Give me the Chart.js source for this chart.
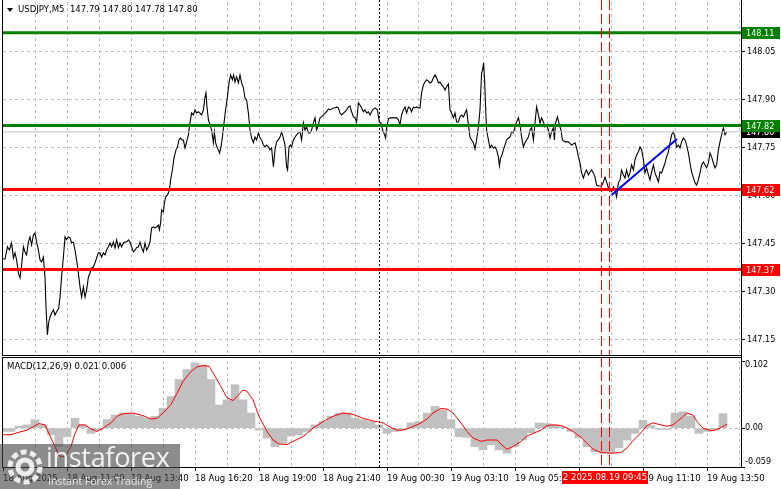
<!DOCTYPE html>
<html>
<head>
<meta charset="utf-8">
<title>USDJPY M5</title>
<script src="https://cdn.jsdelivr.net/npm/chart.js@4.4.1/dist/chart.umd.min.js"></script>
<style>
  html, body { margin: 0; padding: 0; background: #fff; }
  #wrap { position: relative; width: 781px; height: 489px; overflow: hidden; }
  #wrap canvas { position: absolute; left: 0; }
  #priceCanvas { top: 0; }
  #macdCanvas { top: 356px; }
  .txt { position: absolute; font: 9.5px "DejaVu Sans Condensed", "DejaVu Sans", sans-serif; color: #000; white-space: pre; line-height: 12px; }
  #title { left: 18px; top: 3px; }
  #arrow { position: absolute; left: 7px; top: 8px; width: 0; height: 0; border-left: 3.5px solid transparent; border-right: 3.5px solid transparent; border-top: 4px solid #000; }
  #macdTitle { left: 7px; top: 360px; }
  #brand { position: absolute; left: 0; top: 444px; width: 180px; height: 45px; background: rgba(70,70,70,0.62); }
  #brand .big { position: absolute; left: 46px; top: -1px; font: 27px "Open Sans", sans-serif; line-height: 27px; color: rgba(255,255,255,0.88); letter-spacing: -0.3px; }
  #brand .small { position: absolute; left: 48px; top: 31px; font: 10.5px "Open Sans", sans-serif; line-height: 12px; color: rgba(255,255,255,0.8); }
</style>
</head>
<body>
<div id="wrap">
  <canvas id="priceCanvas" width="781" height="356"></canvas>
  <canvas id="macdCanvas" width="781" height="133"></canvas>
  <div id="arrow"></div>
  <div id="title" class="txt">USDJPY,M5  147.79 147.80 147.78 147.80</div>
  <div id="macdTitle" class="txt">MACD(12,26,9) 0.021 0.006</div>
  <div id="brand">
    <svg width="44" height="44" viewBox="0 0 44 44" style="position:absolute;left:3px;top:1px">
      <g fill="none" stroke="rgba(255,255,255,0.85)">
        <circle cx="22" cy="22" r="7" stroke-width="5"/>
        <circle cx="22" cy="22" r="15" stroke-width="5" stroke-dasharray="6 3.42"/>
      </g>
    </svg>
    <div class="big">instaforex</div>
    <div class="small">Instant Forex Trading</div>
  </div>
</div>
<script>
// bar index = one M5 candle, 0 = 18 Aug 08:20
const pricePoints = [
  [0,147.403],[1,147.403],[2.2,147.441],[3.2,147.431],[4.3,147.453],[5.2,147.406],[6,147.422],[6.8,147.400],[7.7,147.359],[8.5,147.344],
  [9.2,147.378],[10.2,147.441],[11,147.425],[11.8,147.416],[12.7,147.456],[13.5,147.472],[14.3,147.447],[15.2,147.478],[16,147.484],[16.8,147.456],
  [17.7,147.431],[18.5,147.400],[19.3,147.394],[20.2,147.409],[21,147.347],[21.5,147.253],[22.2,147.166],[22.8,147.203],[23.5,147.222],[24.3,147.234],
  [25.2,147.244],[26,147.228],[26.8,147.238],[27.8,147.247],[28.5,147.284],[29.3,147.347],[30.2,147.409],[31,147.472],[31.8,147.463],[32.7,147.472],
  [33.5,147.469],[34.3,147.453],[35.2,147.456],[36,147.431],[36.8,147.400],[37.7,147.359],[38.5,147.316],[39.3,147.284],[40.2,147.316],[41,147.284],
  [41.8,147.306],[42.7,147.347],[43.5,147.359],[44.3,147.375],[45.2,147.378],[46,147.391],[46.8,147.406],[47.7,147.422],[48.5,147.422],[49.3,147.409],
  [50.2,147.422],[51,147.416],[51.8,147.431],[52.7,147.441],[53.5,147.453],[54.3,147.441],[55.2,147.456],[56,147.438],[56.8,147.463],[57.7,147.438],
  [58.5,147.453],[59.3,147.441],[60.2,147.453],[61,147.456],[61.8,147.456],[62.7,147.463],[63.5,147.456],[64.3,147.441],[65.2,147.425],[66,147.431],
  [66.8,147.438],[67.7,147.441],[68.5,147.456],[69.3,147.438],[70.2,147.425],[71,147.453],[71.8,147.431],[72.7,147.441],[73.5,147.456],[74.3,147.500],
  [75.2,147.503],[76,147.500],[76.8,147.503],[77.7,147.509],[78.2,147.494],[78.8,147.516],[79.3,147.556],[80.2,147.550],[80.7,147.578],[81.3,147.597],
  [82.3,147.603],[83.2,147.619],[83.8,147.650],[84.7,147.681],[85.5,147.719],[86.5,147.744],[87.2,147.753],[88,147.775],[88.7,147.781],[89.5,147.775],
  [90.2,147.775],[91,147.750],[91.8,147.769],[92.7,147.791],[93.2,147.816],
  [94.3,147.859],[95.2,147.853],[96,147.869],[96.8,147.859],[97.7,147.863],[98.5,147.859],[99.3,147.853],[100.2,147.869],[101,147.909],[101.5,147.922],
  [102,147.878],[102.7,147.838],[103.5,147.822],[104.3,147.806],[105.2,147.766],[105.7,147.800],[106.3,147.766],[107,147.753],[107.7,147.744],[108.3,147.734],
  [109,147.753],[109.7,147.784],[110.5,147.828],[111.3,147.869],[112.2,147.909],[113,147.953],[113.8,147.978],[114.7,147.963],[115.3,147.978],[116,147.956],
  [116.8,147.972],[117.7,147.953],[118.5,147.978],[119.3,147.953],[120.2,147.938],[121,147.906],[121.8,147.900],[122.7,147.859],[123.5,147.806],[124.3,147.781],
  [125.2,147.766],[126,147.784],[126.8,147.775],[127.7,147.797],[128.5,147.781],[129.3,147.775],[130.2,147.759],[131,147.753],[131.8,147.759],[132.7,147.753],
  [133.5,147.744],[134.3,147.750],[135.2,147.691],[136,147.744],[136.8,147.769],[137.7,147.775],[138.5,147.784],[139.3,147.800],[140.2,147.781],[141,147.759],
  [141.8,147.691],[142.3,147.681],[143,147.753],[143.7,147.759],[144.3,147.753],[145.2,147.775],[146,147.784],[146.8,147.791],[147.7,147.797],[148.5,147.800],
  [149.3,147.775],[150.2,147.828],[151,147.806],[151.8,147.816],[152.7,147.797],[153.5,147.797],[154.3,147.806],[155.2,147.828],[156,147.844],[156.8,147.806],
  [157.7,147.822],[158.5,147.844],[159.3,147.847],[160.2,147.853],[161,147.859],[161.8,147.863],[162.7,147.872],[163.5,147.869],[164.3,147.872],[165.2,147.875],
  [166,147.875],[166.8,147.878],[167.7,147.875],[168.5,147.859],[169.3,147.853],[170.2,147.859],[171,147.863],[171.8,147.869],[172.7,147.878],[173.5,147.881],
  [174.3,147.863],[175.2,147.847],[176,147.844],[176.8,147.831],[177.7,147.891],[178.5,147.884],[179.3,147.875],[180.2,147.863],[181,147.869],[181.8,147.859],
  [182.7,147.863],[183.5,147.853],
  [184.8,147.869],[186,147.875],[187.2,147.869],[188.2,147.831],[189,147.828],[189.8,147.806],[190.8,147.791],[191.3,147.781],[191.8,147.813],[192.7,147.841],
  [193.5,147.844],[195.2,147.844],[196.8,147.844],[197.7,147.838],[198.5,147.822],[199.3,147.853],[200.2,147.869],[201,147.878],[201.8,147.859],[202.7,147.878],
  [203.5,147.875],[204.3,147.863],[205.2,147.878],[206,147.875],[206.8,147.878],[207.7,147.875],[208.5,147.875],[209.3,147.922],[210.2,147.947],[211,147.956],
  [211.8,147.963],[212.7,147.959],[213.5,147.953],[214.3,147.956],[215.2,147.969],[216,147.978],[216.8,147.969],[217.7,147.953],[218.5,147.956],[219.3,147.947],
  [220.2,147.941],[221,147.931],[221.8,147.941],[222.7,147.950],[223.5,147.869],[224.3,147.859],[225.2,147.844],[226,147.859],[226.8,147.831],[227.7,147.831],
  [228.5,147.847],[229.3,147.853],[230.2,147.847],[231,147.859],[231.8,147.869],[232.7,147.822],[233.5,147.784],[234.3,147.775],[235.2,147.766],[236,147.747],
  [236.8,147.775],[237.7,147.816],[238.5,147.869],[239.3,147.984],[239.8,147.994],[240.3,148.016],[240.8,147.963],[241.3,147.878],[241.8,147.806],[242.7,147.775],
  [243.5,147.750],[244.3,147.759],[245.2,147.750],[246,147.753],[246.8,147.744],[247.7,147.722],[248.2,147.694],[248.8,147.719],[249.5,147.728],[250.2,147.744],
  [251,147.759],[251.8,147.775],[252.7,147.781],[253.5,147.784],[254.3,147.800],[255.2,147.797],[256,147.816],[256.8,147.831],[257.7,147.844],[258.5,147.822],
  [259.3,147.784],[260.2,147.753],[261,147.766],[261.8,147.775],[262.7,147.784],[263.5,147.806],[264.3,147.813],[265.2,147.775],[266,147.828],[266.8,147.878],
  [267.7,147.853],[268.5,147.828],[269.3,147.844],[270.2,147.831],[271,147.816],[271.8,147.822],[272.7,147.806],[273.5,147.781],[274.3,147.800],[275.2,147.813],
  [275.7,147.775],[276.3,147.828],[277.2,147.847],[278.2,147.822],
  [279,147.806],[279.7,147.775],[281,147.769],[282.7,147.769],[284.3,147.759],[286,147.766],[286.8,147.750],[287.7,147.722],[288.5,147.703],[289.3,147.672],
  [290.2,147.656],[291,147.672],[291.8,147.681],[292.7,147.666],[293.5,147.675],[294.3,147.681],[295.2,147.672],[296,147.659],[296.8,147.634],[297.7,147.631],
  [299.3,147.631],[300.2,147.644],[301,147.659],[301.8,147.644],[302.7,147.625],[303.5,147.619],[304.3,147.613],[305.2,147.628],[306,147.619],[306.8,147.597],
  [307.7,147.641],[308.5,147.650],[309.3,147.681],[310.2,147.666],[311,147.656],[311.8,147.681],[312.7,147.659],[313.5,147.672],[314.3,147.697],[315.2,147.681],
  [316,147.713],[316.8,147.728],[317.7,147.738],[318.5,147.753],[319.3,147.744],[320.2,147.713],[321,147.672],[321.8,147.688],[322.7,147.666],[323.5,147.650],
  [324.3,147.675],[325.2,147.697],[326,147.672],[326.8,147.659],[327.7,147.644],[328.5,147.675],[329.3,147.672],[330.2,147.688],[331,147.703],[331.8,147.722],
  [332.7,147.738],[333.5,147.766],[334.3,147.791],[335.2,147.800],[336,147.781],[336.8,147.753],[337.7,147.759],[338.5,147.750],[339.3,147.769],[340.2,147.781],
  [341,147.775],[341.8,147.759],[342.7,147.734],[343.5,147.703],[344.3,147.675],[345.2,147.656],[346,147.641],[346.8,147.634],[347.7,147.650],[348.5,147.672],
  [349.3,147.697],[350.2,147.706],[351,147.697],[351.8,147.688],[352.7,147.703],[353.5,147.734],[354.3,147.722],[355.2,147.703],[356,147.688],[356.8,147.697],
  [357.7,147.744],[358.5,147.769],[359.3,147.791],[360.2,147.813],[361,147.791],[361.8,147.800]
];

// MACD main (histogram) and signal
const macdHist = [
  [0,-0.005],[4,-0.005],[8,0.003],[12,0.005],[16,0.013],[20,0.005],[24,-0.010],[28,-0.028],[32,-0.013],[36,0.015],
  [40,0.005],[44,-0.008],[48,-0.003],[52,0.013],[56,0.020],[60,0.023],[64,0.022],[68,0.018],[72,0.015],[76,0.018],
  [80,0.030],[84,0.048],[88,0.074],[92,0.089],[96,0.099],[100,0.096],[104,0.074],[108,0.035],[112,0.043],[116,0.066],
  [120,0.043],[124,0.023],[128,-0.003],[132,-0.015],[136,-0.028],[140,-0.023],[144,-0.012],[148,-0.010],[152,-0.005],[156,0.005],
  [160,0.010],[164,0.018],[168,0.023],[172,0.023],[176,0.015],[180,0.013],[184,0.010],[188,0.005],[192,-0.008],[196,-0.005],
  [200,-0.003],[204,0.008],[208,0.010],[212,0.023],[216,0.033],[220,0.028],[224,0.013],[228,-0.013],[232,-0.014],[236,-0.028],
  [240,-0.033],[244,-0.025],[248,-0.033],[252,-0.038],[256,-0.028],[260,-0.018],[264,-0.007],[268,0.008],[272,0.007],[276,0.005],
  [280,0.002],[284,-0.005],[288,-0.015],[292,-0.028],[296,-0.036],[300,-0.038],[304,-0.038],[308,-0.030],[312,-0.018],[316,-0.008],
  [320,0.012],[324,0.004],[328,-0.002],[332,-0.002],[336,0.023],[340,0.025],[344,0.018],[348,-0.008],[352,-0.005],[356,-0.003],[360,0.022]
];
const macdSignal = [
  [0,-0.010],[4,-0.010],[7,-0.007],[12,-0.003],[15,0.002],[18,0.007],[21,0.005],[24,-0.015],[26,-0.028],[28,-0.042],
  [31,-0.044],[34,-0.028],[36,-0.008],[38,0.005],[41,0.005],[44,-0.001],[47,-0.005],[50,0.000],[54,0.008],[57,0.018],
  [60,0.022],[65,0.023],[70,0.019],[74,0.014],[77,0.015],[80,0.023],[84,0.036],[87,0.053],[90,0.071],[94,0.086],
  [97,0.093],[100,0.095],[103,0.094],[105,0.084],[109,0.063],[112,0.046],[115,0.042],[117,0.048],[120,0.058],[122,0.056],
  [125,0.043],[128,0.018],[132,-0.005],[135,-0.018],[138,-0.024],[142,-0.025],[145,-0.020],[150,-0.013],[155,0.000],[160,0.010],
  [165,0.018],[170,0.023],[175,0.021],[180,0.015],[185,0.011],[190,0.008],[194,0.001],[197,-0.003],[200,-0.003],[204,0.001],
  [209,0.008],[212,0.014],[215,0.023],[219,0.030],[222,0.029],[225,0.023],[229,0.008],[232,-0.005],[235,-0.015],[239,-0.020],
  [242,-0.018],[247,-0.018],[250,-0.027],[252,-0.032],[255,-0.028],[259,-0.020],[262,-0.012],[265,-0.008],[269,-0.003],[272,0.004],
  [275,0.005],[279,0.004],[282,0.000],[285,-0.005],[289,-0.014],[292,-0.023],[295,-0.032],[299,-0.037],[304,-0.038],[309,-0.037],
  [312,-0.030],[315,-0.019],[319,-0.007],[322,0.004],[325,0.008],[329,0.005],[332,0.003],[335,0.005],[339,0.015],[342,0.023],
  [345,0.020],[347,0.010],[350,0.000],[354,-0.004],[356,-0.003],[359,0.001],[362,0.006]
];

const levelValues = [148.11, 147.82, 147.62, 147.37];
const levelColors = ['#008000', '#008000', '#ff0000', '#ff0000'];
const currentPrice = 147.80;
const trendBars = [304.3, 337];
const trendPrices = [147.603, 147.778];
const cursorBars = [299, 303];
const daySeparatorBar = 188;
const cursorTagBar = 301;
const cursorTagText = '2 2025.08.19 09:45';

const priceTicks = [147.15, 147.30, 147.45, 147.60, 147.75, 147.90, 148.05];
const macdTicks = [0.102, 0, -0.059];
const macdTickLabels = ['0.102', '0.00', '-0.059'];
const gridBars = [0,16,32,48,64,80,96,112,128,144,160,176,192,208,224,240,256,272,288,304,320,336,352,368];
const timeTickBars = [0, 32, 64, 96, 128, 160, 192, 224, 256, 288, 320, 352];
const timeTickLabels = ['18 Aug 2025', '18 Aug 11:00', '18 Aug 13:40', '18 Aug 16:20', '18 Aug 19:00', '18 Aug 21:40',
  '19 Aug 00:30', '19 Aug 03:10', '19 Aug 05:50', '19 Aug 08:30', '19 Aug 11:10', '19 Aug 13:50'];

const priceMin = 147.103, priceMax = 148.206;
const macdMin = -0.059, macdMax = 0.102;
const barMin = 0, barMax = 369;

const FONT = '"DejaVu Sans Condensed", "DejaVu Sans", sans-serif';
const axisFont = { family: FONT, size: 9 };
const timeFont = { family: FONT, size: 9.5 };
const CLEAR = 'rgba(0,0,0,0)';

function pts(arr) { return arr.map(p => ({ x: p[0], y: p[1] })); }
function hline(v, color, width) {
  return { type: 'line', data: [{ x: barMin, y: v }, { x: barMax, y: v }], borderColor: color, borderWidth: width, pointRadius: 0 };
}

function xScale(showLabels) {
  return {
    type: 'linear', min: barMin, max: barMax, offset: false,
    afterBuildTicks: s => { s.ticks = gridBars.map(v => ({ value: v })); },
    afterFit: s => { s.height = showLabels ? 22 : 0; },
    grid: {
      offset: false, drawTicks: showLabels, tickLength: 4, tickWidth: 1,
      color: c => (c.tick && c.tick.value === 0 ? CLEAR : '#c0c0c0'),
      tickColor: c => (c.tick && timeTickBars.includes(c.tick.value) ? '#000' : CLEAR)
    },
    border: { display: false, dash: [3, 3] },
    ticks: {
      display: showLabels, autoSkip: false, maxRotation: 0, minRotation: 0, align: 'start', padding: 2,
      color: '#000', font: timeFont,
      callback: v => { const i = timeTickBars.indexOf(v); return i >= 0 ? timeTickLabels[i] : ''; }
    }
  };
}

// fixed right axis width, no extra label padding at the ends
function fitY(s) { s.width = 40; s.paddingTop = 0; s.paddingBottom = 0; }

// vertical cursor lines and the day separator, placed by the x scale
const markers = {
  id: 'markers',
  afterDatasetsDraw(chart) {
    const ctx = chart.ctx, x = chart.scales.x, a = chart.chartArea;
    const top = chart.canvas.id === 'macdCanvas' ? 1 : 0;
    const draw = (bar, color, dash) => {
      const px = Math.round(x.getPixelForValue(bar)) + 0.5;
      ctx.save();
      ctx.strokeStyle = color;
      ctx.lineWidth = 1;
      ctx.setLineDash(dash);
      ctx.beginPath();
      ctx.moveTo(px, top);
      ctx.lineTo(px, a.bottom);
      ctx.stroke();
      ctx.restore();
    };
    draw(daySeparatorBar, '#000', [2, 2]);
    cursorBars.forEach(b => draw(b, '#ff0000', [10, 4]));
  }
};

// panel frames and right axis line
function framePlugin(isMacd) {
  return {
    id: 'frame',
    afterDraw(chart) {
      const ctx = chart.ctx, a = chart.chartArea;
      ctx.save();
      ctx.strokeStyle = '#000';
      ctx.lineWidth = 1;
      ctx.beginPath();
      if (!isMacd) {
        ctx.moveTo(2.5, 0); ctx.lineTo(2.5, a.bottom + 0.5);
        ctx.moveTo(2, a.bottom + 0.5); ctx.lineTo(a.right + 1, a.bottom + 0.5);
        ctx.moveTo(a.right + 0.5, 0); ctx.lineTo(a.right + 0.5, chart.height);
      } else {
        ctx.moveTo(2, 1.5); ctx.lineTo(a.right + 1, 1.5);
        ctx.moveTo(2.5, 1); ctx.lineTo(2.5, a.bottom + 0.5);
        ctx.moveTo(2, a.bottom + 0.5); ctx.lineTo(a.right + 1, a.bottom + 0.5);
        ctx.moveTo(a.right + 0.5, 0); ctx.lineTo(a.right + 0.5, a.bottom + 1);
      }
      ctx.stroke();
      ctx.restore();
    }
  };
}

const levelTags = {
  id: 'levelTags',
  afterDraw(chart) {
    const ctx = chart.ctx, y = chart.scales.y, a = chart.chartArea;
    ctx.save();
    ctx.font = '9px ' + FONT;
    ctx.textBaseline = 'middle';
    ctx.textAlign = 'left';
    const tag = (v, bg) => {
      const py = Math.round(y.getPixelForValue(v));
      ctx.fillStyle = bg;
      ctx.fillRect(a.right + 1, py - 6, 38, 12);
      ctx.fillStyle = '#fff';
      ctx.fillText(v.toFixed(2), a.right + 5, py + 0.5);
    };
    tag(currentPrice, '#000');
    levelValues.forEach((v, i) => tag(v, levelColors[i]));
    ctx.restore();
  }
};

const macdLabels = {
  id: 'macdLabels',
  afterDraw(chart) {
    const ctx = chart.ctx, y = chart.scales.y, x = chart.scales.x, a = chart.chartArea;
    ctx.save();
    ctx.font = '9px ' + FONT;
    ctx.fillStyle = '#000';
    ctx.textBaseline = 'middle';
    macdTicks.forEach((v, i) => {
      const py = Math.min(Math.max(y.getPixelForValue(v), a.top + 4), a.bottom - 5);
      ctx.fillText(macdTickLabels[i], a.right + 4, py);
    });
    // crosshair time tag
    const cx = x.getPixelForValue(cursorTagBar);
    ctx.fillStyle = '#ff0000';
    ctx.fillRect(Math.round(cx) - 43, a.bottom + 4, 86, 13);
    ctx.fillStyle = '#fff';
    ctx.font = '9.5px ' + FONT;
    ctx.textAlign = 'center';
    ctx.fillText(cursorTagText, cx, a.bottom + 11);
    ctx.restore();
  }
};

const common = {
  responsive: false,
  animation: false,
  events: [],
  plugins: { legend: { display: false }, tooltip: { enabled: false } }
};

new Chart(document.getElementById('priceCanvas'), {
  type: 'line',
  data: {
    datasets: [
      { data: pts(pricePoints), borderColor: '#000', borderWidth: 1.1, pointRadius: 0, tension: 0, order: 10 },
      Object.assign(hline(currentPrice, '#c0c0c0', 1), { order: 9 }),
      ...levelValues.map((v, i) => Object.assign(hline(v, levelColors[i], 3), { order: 3 })),
      { data: trendBars.map((b, i) => ({ x: b, y: trendPrices[i] })), borderColor: '#0000ff', borderWidth: 2, pointRadius: 0, order: 2 }
    ]
  },
  options: Object.assign({}, common, {
    layout: { padding: { left: 3, right: 0, top: 2, bottom: 1 } },
    scales: {
      x: xScale(false),
      y: {
        type: 'linear', position: 'right', min: priceMin, max: priceMax,
        afterBuildTicks: s => { s.ticks = priceTicks.map(v => ({ value: v })); },
        afterFit: fitY,
        grid: { color: '#c0c0c0', tickLength: 4, tickColor: '#000', tickWidth: 1 },
        border: { display: false, dash: [3, 3] },
        ticks: { padding: 2, color: '#000', font: axisFont, callback: v => v.toFixed(2) }
      }
    }
  }),
  plugins: [markers, framePlugin(false), levelTags]
});

new Chart(document.getElementById('macdCanvas'), {
  type: 'line',
  data: {
    datasets: [
      { type: 'bar', data: pts(macdHist), backgroundColor: '#c0c0c0', borderWidth: 0, barPercentage: 1, categoryPercentage: 1, grouped: false, order: 10 },
      { type: 'line', data: pts(macdSignal), borderColor: '#ff0000', borderWidth: 1, pointRadius: 0, tension: 0, order: 5 }
    ]
  },
  options: Object.assign({}, common, {
    layout: { padding: { left: 3, right: 0, top: 5, bottom: 0 } },
    scales: {
      x: xScale(true),
      y: {
        type: 'linear', position: 'right', min: macdMin, max: macdMax,
        afterBuildTicks: s => { s.ticks = macdTicks.map(v => ({ value: v })); },
        afterFit: fitY,
        grid: { color: c => (c.tick && c.tick.value === 0 ? '#c0c0c0' : CLEAR), tickLength: 4, tickColor: '#000', tickWidth: 1 },
        border: { display: false, dash: [3, 3] },
        ticks: { display: false }
      }
    }
  }),
  plugins: [markers, framePlugin(true), macdLabels]
});
</script>
</body>
</html>
